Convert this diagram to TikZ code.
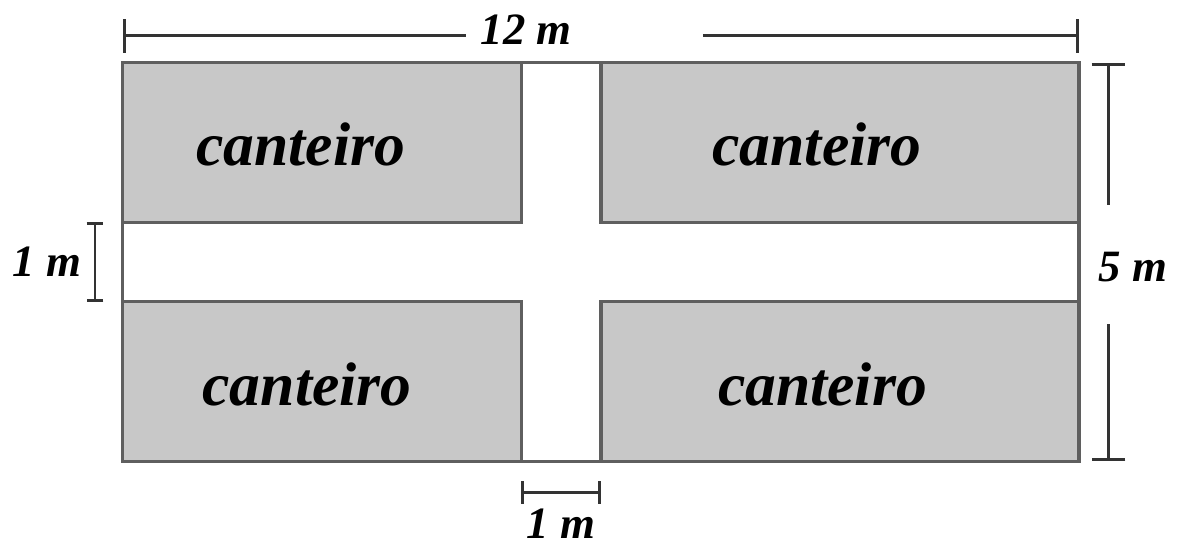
\documentclass[tikz,border=0pt]{standalone}
\usepackage{fontspec}
\setmainfont{Liberation Serif}
\usepackage{xcolor}
\usepackage{tikz}
\usetikzlibrary{arrows.meta,positioning}
\definecolor{bedgray}{RGB}{200,200,200}
\definecolor{edgegray}{RGB}{95,95,95}
\tikzset{
bed/.style={
  draw=edgegray,
  fill=bedgray,
  line width=1.1pt
  },
dimline/.style={
  draw=black!80,
  line width=1pt
  },
bedtext/.style={font=\fontsize{22}{26}\selectfont\bfseries\itshape},
dimtext/.style={font=\fontsize{16}{19}\selectfont\bfseries\itshape}
}

\begin{document}
\begin{tikzpicture}
\useasboundingbox (-1.543,-1.041) rectangle (13.23,5.79);
% the garden
\draw[draw=edgegray,line width=1.1pt] (0,0) rectangle (12,5);
\path[bed] (0,3) rectangle (5,5);
\path[bed] (6,3) rectangle (12,5);
\path[bed] (0,0) rectangle (5,2);
\path[bed] (6,0) rectangle (12,2);
\node[bedtext] at (2.23,3.98) (bed-tl) {canteiro};
\node[bedtext] at (8.71,3.98) (bed-tr) {canteiro};
\node[bedtext] at (2.31,0.97) (bed-bl) {canteiro};
\node[bedtext] at (8.78,0.97) (bed-br) {canteiro};

% the measures
\path
  (0,5.34) coordinate (w1)
  (4.3,5.34) coordinate (w2)
  (7.28,5.34) coordinate (w3)
  (12,5.34) coordinate (w4)
  (12.37,5) coordinate (h1)
  (12.37,3.22) coordinate (h2)
  (12.37,1.72) coordinate (h3)
  (12.37,0) coordinate (h4)
  (-0.35,3) coordinate (p1)
  (-0.35,2) coordinate (p2)
  (5,-0.39) coordinate (q1)
  (6,-0.39) coordinate (q2);
\node[dimtext] at (5.06,5.42) (width) {12 m};
\node[dimtext] at (12.68,2.44) (height) {5 m};
\node[dimtext] at (-0.955,2.51) (path-h) {1 m};
\node[dimtext] at (5.5,-0.78) (path-v) {1 m};

%the lines
\draw[dimline,{Bar[width=12pt]}-] (w1) -- (w2);
\draw[dimline,-{Bar[width=12pt]}] (w3) -- (w4);
\draw[dimline,{Bar[width=12pt]}-] (h1) -- (h2);
\draw[dimline,-{Bar[width=12pt]}] (h3) -- (h4);
\draw[dimline,{Bar[width=6pt]}-{Bar[width=6pt]}] (p1) -- (p2);
\draw[dimline,{Bar[width=8pt]}-{Bar[width=8pt]}] (q1) -- (q2);
\end{tikzpicture}
\end{document}
